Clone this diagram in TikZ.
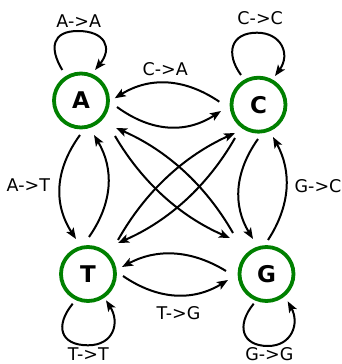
\documentclass[tikz,border=0pt]{standalone}
\usepackage{fontspec}
\setmainfont{DejaVu Sans}
\usetikzlibrary{arrows.meta,calc}
\definecolor{stategreen}{RGB}{0,128,0}
\begin{document}
\begin{tikzpicture}[x=1bp,y=1bp,
  state/.style={circle,draw=stategreen,line width=3.8bp,minimum size=54bp,inner sep=0pt,outer sep=0pt,
    font=\fontsize{23bp}{26bp}\selectfont\bfseries},
  edge/.style={draw=black,line width=2bp,-{Stealth[length=11bp,width=8.5bp,inset=2.5bp]}},
  lbl/.style={font=\fontsize{17.5bp}{20bp}\selectfont,inner sep=0pt}]
\useasboundingbox (0,0) rectangle (342,364);
% states
\node[state] (A) at (81,263.5) {A};
\node[state] (C) at (258.5,259.3) {C};
\node[state] (T) at (88,90) {T};
\node[state] (G) at (266.5,90) {G};
% self loops
\draw[edge] ($(A)+(-18.7,30.5)$) .. controls +(-13.3,22) and +(-26,0) .. ($(A)+(-3,69.5)$)
  .. controls +(27,0) and +(18,22) .. ($(A)+(14,30.5)$);
\draw[edge] ($(C)+(-17.5,29.7)$) .. controls +(-16,22) and +(-26,0) .. ($(C)+(-1.5,72)$)
  .. controls +(24,0) and +(16,22) .. ($(C)+(16.5,28.7)$);
\draw[edge] ($(T)+(-15.3,-29.7)$) .. controls +(-18,-22) and +(-28,0) .. ($(T)+(0,-71.3)$)
  .. controls +(26,0) and +(14,-22) .. ($(T)+(18,-26.3)$);
\draw[edge] ($(G)+(-12.8,-29.7)$) .. controls +(-18,-22) and +(-26,0) .. ($(G)+(1.5,-72)$)
  .. controls +(24,0) and +(12,-22) .. ($(G)+(21.2,-27.3)$);
% A <-> C
\draw[edge] ($(C)+(-39.2,3)$) .. controls +(-35,23.7) and +(35,21.7) .. ($(A)+(33.7,2.2)$);
\draw[edge] ($(A)+(36,-6.5)$) .. controls +(34.7,-25.3) and +(-34.7,-22.7) .. ($(C)+(-37.5,-6.3)$);
% A <-> T
\draw[edge] ($(A)+(-1,-34.5)$) .. controls +(-25.3,-34.7) and +(-22.7,34.7) .. ($(T)+(-12,35)$);
\draw[edge] ($(T)+(1,37)$) .. controls +(23.7,34) and +(20.3,-34) .. ($(A)+(13,-34.5)$);
% C <-> G
\draw[edge] ($(C)+(-0.5,-34.3)$) .. controls +(-23.7,-33.3) and +(-20.3,33.3) .. ($(G)+(-13.5,35)$);
\draw[edge] ($(G)+(1.5,34)$) .. controls +(22.4,34.3) and +(19,-34.3) .. ($(C)+(14.5,-32.3)$);
% T <-> G
\draw[edge] ($(G)+(-40.5,3)$) .. controls +(-34.7,21.3) and +(34.7,18.7) .. ($(T)+(34,7)$);
\draw[edge] ($(T)+(35,-2)$) .. controls +(35,-24) and +(-35,-21.4) .. ($(G)+(-38.5,-6)$);
% diagonals
\draw[edge] ($(A)+(34,-35.5)$) .. controls +(27.2,-46.5) and +(-49.4,21.5) .. ($(G)+(-36.5,36)$);
\draw[edge] ($(G)+(-33.5,41)$) .. controls +(-27.4,47.9) and +(50.6,-22.1) .. ($(A)+(35,-27.5)$);
\draw[edge] ($(T)+(30,34)$) .. controls +(27.3,48.5) and +(-50.7,-22.9) .. ($(C)+(-23.5,-28.3)$);
\draw[edge] ($(C)+(-23.5,-33.3)$) .. controls +(-27.4,-47.9) and +(50.6,22.1) .. ($(T)+(30,31)$);
% labels
\node[lbl] (lAA) at (78.7,342.7) {A->A};
\node[lbl] (lCC) at (260.2,345.7) {C->C};
\node[lbl] (lCA) at (165.2,295) {C->A};
\node[lbl] (lAT) at (28.3,178.5) {A->T};
\node[lbl] (lGC) at (318,178) {G->C};
\node[lbl] (lTG) at (178.5,51) {T->G};
\node[lbl] (lTT) at (88.3,9.5) {T->T};
\node[lbl] (lGG) at (269.3,10) {G->G};
\end{tikzpicture}
\end{document}
